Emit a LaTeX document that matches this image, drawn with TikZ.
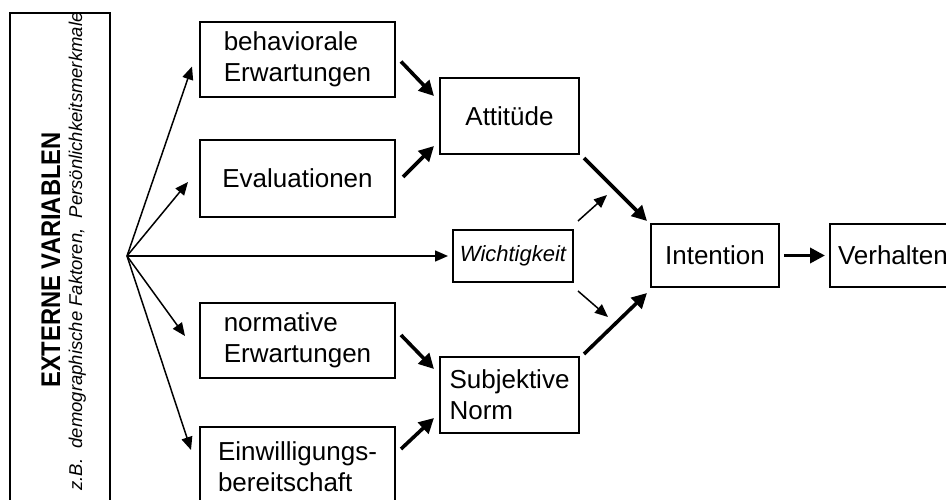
\documentclass[tikz,border=0pt]{standalone}
\usepackage{graphicx}
\usepackage{fontspec}
\setmainfont{Liberation Sans}
\usetikzlibrary{arrows.meta,calc}
\begin{document}
\begin{tikzpicture}[x=1pt,y=-1pt,
  box/.style={draw, line width=2pt, rectangle, inner sep=0pt,
    font=\fontsize{26}{31}\selectfont, align=left},
  thinarr/.style={line width=1.5pt, -{Triangle[length=13pt,width=11pt]}},
  thickarr/.style={line width=3.6pt, -{Triangle[length=15pt,width=15pt]}}]
\useasboundingbox (0,0) rectangle (946,500);

% left box with rotated texts
\node[draw, line width=2pt, minimum width=100pt, minimum height=500pt, inner sep=0pt] (ext) at (60,263) {};
\node[rotate=90, anchor=base, inner sep=0pt, font=\fontsize{27}{27}\selectfont\bfseries] (title) at (60,260)
  {\scalebox{0.88}[1]{EXTERNE VARIABLEN}};
\node[rotate=90, anchor=base, inner sep=0pt, font=\fontsize{18.5}{18.5}\selectfont\itshape] (sub) at (82,251.5)
  {z.B.\ \ demographische Faktoren,\ \ Persönlichkeitsmerkmale};
\coordinate (hub) at (127,256);

% boxes
\node[box, minimum width=195pt, minimum height=75pt] (beh) at (297.5,59.5) {behaviorale\\Erwartungen};
\node[box, minimum width=195pt, minimum height=77pt] (eval) at (297.5,178.5) {Evaluationen};
\node[box, minimum width=139pt, minimum height=76pt] (att) at (509.5,116) {Attitüde};
\node[box, minimum width=120pt, minimum height=52pt, font=\fontsize{22}{22}\selectfont\itshape] (wich) at (513,256) {Wichtigkeit};
\node[box, minimum width=195pt, minimum height=75pt] (norm) at (297.5,340) {normative\\Erwartungen};
\node[box, minimum width=195pt, minimum height=80pt] (einw) at (297.5,467) {Einwilligungs-\\bereitschaft};
\node[box, minimum width=139pt, minimum height=76pt] (subj) at (509.5,395) {Subjektive\\Norm};
\node[box, minimum width=128pt, minimum height=63pt] (int) at (715,255.5) {Intention};
\node[box, minimum height=63pt, text width=124pt, inner xsep=8pt, anchor=west] (verh) at (829,255.5) {Verhalten};

% thin arrows from the hub
\draw[thinarr] (hub) -- ([shift={(-7,7)}]beh.west);
\draw[thinarr] (hub) -- ([shift={(-11,3.5)}]eval.west);
\draw[thinarr] (hub) -- ([shift={(-4,0)}]wich.west);
\draw[thinarr] (hub) -- ([shift={(-14,-4)}]norm.west);
\draw[thinarr] (hub) -- ([shift={(-8,-17)}]einw.west);

% thick arrows
\draw[thickarr] ([shift={(5,2)}]beh.east) -- ([shift={(-5,19)}]att.north west);
\draw[thickarr] ([shift={(7,-1.5)}]eval.east) -- ([shift={(-5,-9)}]att.south west);
\draw[thickarr] ([shift={(5,-5)}]norm.east) -- ([shift={(-5,13)}]subj.north west);
\draw[thickarr] ([shift={(5,23)}]einw.north east) -- ([shift={(-5,-16)}]subj.south west);
\draw[thickarr] ([shift={(4,3)}]att.south east) -- ([shift={(-3,-2)}]int.north west);
\draw[thickarr] ([shift={(4,-2)}]subj.north east) -- ([shift={(-3,5)}]int.south west);
\draw[thickarr] ([shift={(4,0)}]int.east) -- ([shift={(-4,0)}]verh.west);

% thin arrows from Wichtigkeit
\coordinate (wup) at (607,195);
\coordinate (wdown) at (608,317);
\draw[thinarr] ([shift={(4,-8)}]wich.north east) -- (wup);
\draw[thinarr] ([shift={(4,8)}]wich.south east) -- (wdown);
\end{tikzpicture}
\end{document}
